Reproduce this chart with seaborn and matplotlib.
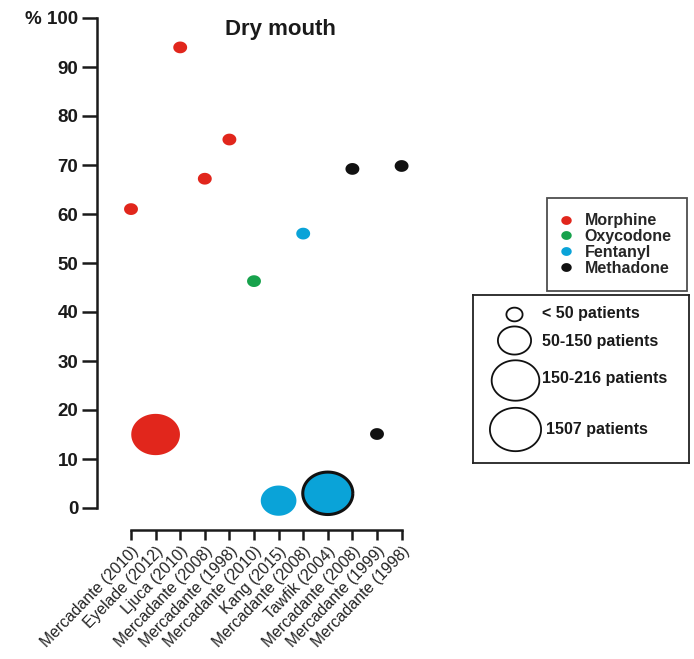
import numpy as np
import pandas as pd
import matplotlib
matplotlib.use("Agg")
import matplotlib.pyplot as plt
import seaborn as sns
from matplotlib.lines import Line2D

# ---- data ----
studies = ["Mercadante (2010)", "Eyelade (2012)", "Ljuca (2010)", "Mercadante (2008)",
           "Mercadante (1998)", "Mercadante (2010)", "Kang (2015)", "Mercadante (2008)",
           "Tawfik (2004)", "Mercadante (2008)", "Mercadante (1999)", "Mercadante (1998)"]
dry_mouth_pct = [61.0, 15.0, 94.0, 67.2, 75.2, 46.3, 1.5, 56.0, 3.0, 69.2, 15.1, 69.8]
opioid = ["Morphine", "Morphine", "Morphine", "Morphine", "Morphine", "Oxycodone",
          "Fentanyl", "Fentanyl", "Fentanyl", "Methadone", "Methadone", "Methadone"]
patients = ["< 50", "150-216", "< 50", "< 50", "< 50", "< 50",
            "50-150", "< 50", "1507", "< 50", "< 50", "< 50"]
opioid_order = ["Morphine", "Oxycodone", "Fentanyl", "Methadone"]
size_order = ["< 50", "50-150", "150-216", "1507"]
size_labels = ["< 50 patients", "50-150 patients", "150-216 patients", "1507 patients"]
y_ticks = [0, 10, 20, 30, 40, 50, 60, 70, 80, 90, 100]
y_ticklabels = ["0", "10", "20", "30", "40", "50", "60", "70", "80", "90", "% 100"]
title = "Dry mouth"

df = pd.DataFrame({"pos": np.arange(len(studies)), "study": studies,
                   "pct": dry_mouth_pct, "opioid": opioid, "patients": patients})

# ---- style ----
colors = {"Morphine": "#E1261C", "Oxycodone": "#17A24C", "Fentanyl": "#0AA3D8", "Methadone": "#111111"}
size_pts = {"< 50": 100, "50-150": 660, "150-216": 1230, "1507": 1300}
legend_w_px = [18.0, 35.0, 49.5, 53.0]

sns.set_style("ticks")
plt.rcParams["font.family"] = ["Liberation Sans", "DejaVu Sans"]

t = np.linspace(0, 2 * np.pi, 73)
ellipse = list(zip(1.18 * np.cos(t), np.sin(t)))

W, H = 694, 659
fig = plt.figure(figsize=(W / 100, H / 100), dpi=100)

def fx(px):
    return px / W

def fy(py):
    return 1 - py / H

ax_left, ax_right, ax_top, ax_bottom = 97, 420, 18, 530
ax = fig.add_axes([fx(ax_left), fy(ax_bottom), fx(ax_right - ax_left), (ax_bottom - ax_top) / H])

sns.scatterplot(data=df, x="pos", y="pct", hue="opioid", hue_order=opioid_order,
                palette=colors, size="patients", size_order=size_order, sizes=size_pts,
                marker=ellipse, linewidth=0, legend=False, ax=ax, zorder=3)
coll = ax.collections[0]
edge = ["#111111" if s == "1507" else "none" for s in patients]
lws = [2.2 if s == "1507" else 0 for s in patients]
coll.set_edgecolors(edge)
coll.set_linewidths(lws)

# axes geometry
ppu_y = 4.9
ax.set_ylim(-(ax_bottom - 508) / ppu_y, 100)
spacing = 24.6
ax.set_xlim(-(131 - ax_left) / spacing, (ax_right - 131) / spacing)
ax.set_xlabel("")
ax.set_ylabel("")
for s in ["top", "right"]:
    ax.spines[s].set_visible(False)
ax.spines["left"].set_bounds(0, 100)
ax.spines["bottom"].set_bounds(0, len(studies) - 1)
for s in ["left", "bottom"]:
    ax.spines[s].set_linewidth(1.8)
    ax.spines[s].set_color("#1a1a1a")

ax.set_yticks(y_ticks)
ax.set_yticklabels(y_ticklabels, fontsize=13.5, fontweight="bold", color="#1a1a1a")
ax.set_xticks(df["pos"])
ax.set_xticklabels(studies, rotation=46, ha="right", rotation_mode="anchor",
                   fontsize=11.3, color="#222222")
ax.tick_params(axis="y", length=10.5, width=1.8, pad=3, color="#1a1a1a")
ax.tick_params(axis="x", length=7, width=1.8, pad=3, color="#1a1a1a")

fig.text(fx(280), fy(30), title, ha="center", va="center", fontsize=16,
         fontweight="bold", color="#1a1a1a")

# ---- legend 1: opioid colours ----
handles = [Line2D([], [], linestyle="none", marker=ellipse, markersize=7.5,
                  markerfacecolor=colors[o], markeredgewidth=0) for o in opioid_order]
leg = fig.legend(handles, opioid_order, loc="upper right",
                 bbox_to_anchor=(fx(687), fy(198)), frameon=True, fancybox=False,
                 edgecolor="#222222", prop={"weight": "bold", "size": 11.5},
                 labelspacing=0.05, borderpad=0.95, handlelength=0.45,
                 handletextpad=0.98, borderaxespad=0)
leg.get_frame().set_linewidth(1.3)

# ---- legend 2: sample sizes ----
bx0, bx1, by0, by1 = 473, 688.5, 295, 463
lax = fig.add_axes([fx(bx0), fy(by1), fx(bx1 - bx0), (by1 - by0) / H])
lax.set_xlim(bx0, bx1)
lax.set_ylim(by1, by0)
lax.set_xticks([])
lax.set_yticks([])
lax.set_facecolor("none")
for s in lax.spines.values():
    s.set_visible(True)
    s.set_linewidth(1.3)
    s.set_color("#222222")
centers = [(513.8, 313.7), (513.8, 340.5), (514.5, 379.8), (514.7, 428.7)]
text_pos = [(542.5, 313.7), (542.5, 341.5), (541.5, 378.5), (546.5, 430)]
for (cx, cy), w, (tx, ty), lab in zip(centers, legend_w_px, text_pos, size_labels):
    pts = w * 0.72 - 1.3
    lax.scatter([cx], [cy], s=pts ** 2, marker=ellipse, facecolor="white",
                edgecolor="#111111", linewidth=1.3)
    lax.text(tx, ty, lab, ha="left", va="center", fontsize=11.5, fontweight="bold",
             color="#1a1a1a")

fig.savefig("out.png", dpi=100)
